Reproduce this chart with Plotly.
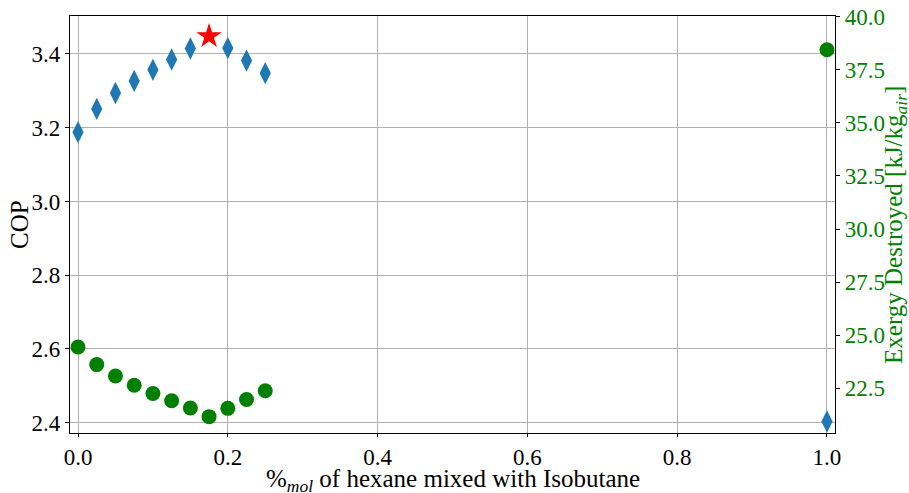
import plotly.graph_objects as go

# Data
x_cop = [0.0, 0.025, 0.05, 0.075, 0.1, 0.125, 0.15, 0.2, 0.225, 0.25, 1.0]
cop = [3.188, 3.251, 3.294, 3.327, 3.357, 3.385, 3.415, 3.416, 3.382, 3.348, 2.403]
x_best = [0.175]
cop_best = [3.448]
x_ex = [0.0, 0.025, 0.05, 0.075, 0.1, 0.125, 0.15, 0.175, 0.2, 0.225, 0.25, 1.0]
exergy = [24.45, 23.62, 23.08, 22.65, 22.26, 21.92, 21.58, 21.17, 21.56, 21.98, 22.39, 38.44]
x_title = "%<sub><i>mol</i></sub> of hexane mixed with Isobutane"
y_title = "COP"
y2_title = "Exergy Destroyed [kJ/kg<sub><i>air</i></sub>]"

FONT = "Liberation Serif"
GREEN = "#008000"
TICK = 23
TITLE = 25

fig = go.Figure()
fig.add_trace(go.Scatter(x=x_cop, y=cop, mode="markers",
                         marker=dict(symbol="diamond-tall", size=16, color="#1f77b4"),
                         yaxis="y", showlegend=False))
fig.add_trace(go.Scatter(x=x_best, y=cop_best, mode="markers",
                         marker=dict(symbol="star", size=19, color="red"),
                         yaxis="y", showlegend=False))
fig.add_trace(go.Scatter(x=x_ex, y=exergy, mode="markers",
                         marker=dict(symbol="circle", size=15, color=GREEN),
                         yaxis="y2", showlegend=False))

fig.update_layout(
    width=909, height=493,
    margin=dict(l=70, r=74, t=16, b=60, autoexpand=False),
    paper_bgcolor="white", plot_bgcolor="white",
    font=dict(family=FONT, size=TICK, color="black"),
    xaxis=dict(range=[-0.0107, 1.0107], tickvals=[0, 0.2, 0.4, 0.6, 0.8, 1.0],
               tickformat=".1f", showgrid=True, gridcolor="#b0b0b0", gridwidth=0.8,
               showline=True, linecolor="black", linewidth=1.2, mirror=True,
               ticks="outside", ticklen=3, tickcolor="black", zeroline=False,
               automargin=False, tickfont=dict(size=TICK)),
    yaxis=dict(range=[2.372, 3.503], tickvals=[2.4, 2.6, 2.8, 3.0, 3.2, 3.4],
               tickformat=".1f", showgrid=True, gridcolor="#b0b0b0", gridwidth=0.8,
               showline=True, linecolor="black", linewidth=1.2,
               ticks="outside", ticklen=4, tickcolor="black", zeroline=False,
               automargin=False, tickfont=dict(size=TICK)),
    yaxis2=dict(range=[20.4, 40.03], tickvals=[22.5, 25.0, 27.5, 30.0, 32.5, 35.0, 37.5, 40.0],
                tickformat=".1f", overlaying="y", side="right", showgrid=False,
                showline=True, linecolor="black", linewidth=1.2,
                ticks="outside", ticklen=4, tickcolor="black", zeroline=False,
                automargin=False,
                tickfont=dict(color=GREEN, size=TICK)),
    annotations=[
        dict(text=x_title, xref="paper", yref="paper", x=0.5, y=-0.113,
             xanchor="center", yanchor="middle", showarrow=False,
             font=dict(size=TITLE, color="black")),
        dict(text=y_title, xref="paper", yref="paper", x=-0.066, y=0.5,
             xanchor="center", yanchor="middle", showarrow=False, textangle=-90,
             font=dict(size=TITLE, color="black")),
        dict(text=y2_title, xref="paper", yref="paper", x=1.079, y=0.5,
             xanchor="center", yanchor="middle", showarrow=False, textangle=-90,
             font=dict(size=TITLE, color=GREEN)),
    ],
)

fig.write_html("out.html", config={"displayModeBar": False},
               post_script="document.body.style.margin='0';document.body.style.overflow='hidden';")
